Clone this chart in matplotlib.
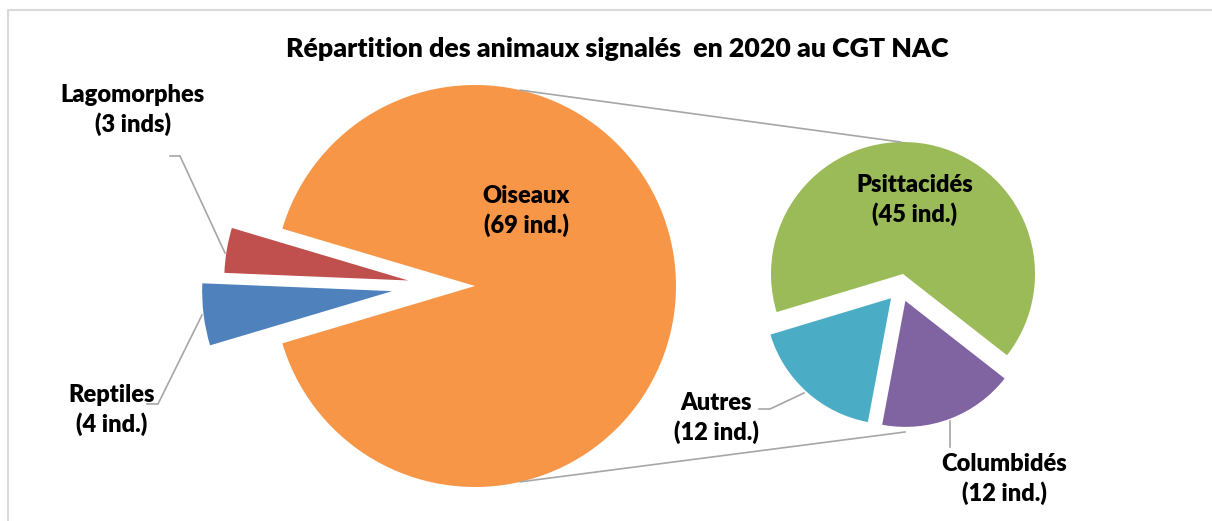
import numpy as np
import matplotlib.pyplot as plt

# Data
main_labels = ['Oiseaux', 'Lagomorphes', 'Reptiles']
main_values = [69, 3, 4]
main_units = ['ind.', 'inds', 'ind.']
sub_labels = ['Psittacidés', 'Autres', 'Columbidés']
sub_values = [45, 12, 12]
sub_units = ['ind.', 'ind.', 'ind.']
title = 'Répartition des animaux signalés  en 2020 au CGT NAC'

main_colors = ['#F79646', '#C0504D', '#4F81BD']
sub_colors = ['#9BBB59', '#4BACC6', '#8064A2']

W, H = 1212, 521
FONT = ['Lato', 'DejaVu Sans']
WEIGHT = 'heavy'


def Y(y):
    # picture rows run downwards, data y runs upwards
    return H - y


def push_out(wedges, idx, dist, radii):
    # explode slices, direction pulled halfway towards the group's middle
    mids = [(wedges[i].theta1 + wedges[i].theta2) / 2 for i in idx]
    group = (wedges[idx[0]].theta1 + wedges[idx[-1]].theta2) / 2
    for i, m, d, r in zip(idx, mids, dist, radii):
        ang = np.radians((m + group) / 2)
        cx, cy = wedges[i].center
        wedges[i].set_center((cx + d * np.cos(ang), cy + d * np.sin(ang)))
        wedges[i].set_radius(r)


fig = plt.figure(figsize=(W / 100, H / 100), dpi=100)
ax = fig.add_axes([0, 0, 1, 1])

# main pie: small slices sit on the left, exploded
main_c = (475, Y(286))
main_r = 201
rest = sum(main_values[1:]) / sum(main_values) * 360
main_start = 180 + rest / 2
main_wedges, _ = ax.pie(main_values, center=main_c, radius=main_r,
                        startangle=main_start, colors=main_colors,
                        wedgeprops=dict(linewidth=0))
push_out(main_wedges, [1, 2], [67, 83], [184, 190])

# secondary pie: breakdown of Oiseaux
sub_c = (903, Y(274))
sub_r = 132
sub_start = -38
sub_expl = 27
sub_wedges, _ = ax.pie(sub_values, center=sub_c, radius=sub_r,
                       startangle=sub_start, colors=sub_colors,
                       wedgeprops=dict(linewidth=0))
push_out(sub_wedges, [1, 2], [sub_expl, sub_expl], [126, 126])

# connector lines between the two pies
a = np.radians(77)
b = np.radians(91)
ax.plot([main_c[0] + main_r * np.cos(a), sub_c[0] + sub_r * np.cos(b)],
        [main_c[1] + main_r * np.sin(a), sub_c[1] + sub_r * np.sin(b)],
        color='#a6a6a6', lw=1.2)
ax.plot([main_c[0] + main_r * np.cos(-a), sub_c[0] + 2],
        [main_c[1] + main_r * np.sin(-a), sub_c[1] - sub_r - sub_expl + 1],
        color='#a6a6a6', lw=1.2)

# leader lines for outside labels
leaders = [
    ([170, 180, 225], [156, 156, 253]),
    ([147, 158, 202], [404, 404, 315]),
    ([759, 770, 804], [409, 409, 393]),
    ([950, 950], [421, 447]),
]
for xs, ys in leaders:
    ax.plot(xs, [Y(v) for v in ys], color='#a6a6a6', lw=1.2)

# labels
main_pos = [(526, 211), (133, 110), (112, 410)]
sub_pos = [(915, 200), (716, 418), (1004, 479)]
for lab, val, unit, (x, y) in zip(main_labels + sub_labels,
                                  main_values + sub_values,
                                  main_units + sub_units,
                                  main_pos + sub_pos):
    ax.text(x, Y(y), f'{lab}\n({val} {unit})', ha='center', va='center',
            fontsize=17, fontweight=WEIGHT, family=FONT, linespacing=1.35)

ax.text(617, Y(49), title, ha='center', va='center', fontsize=19.3,
        fontweight=WEIGHT, family=FONT)

# light chart frame (top and left visible)
ax.plot([7.5, 7.5, W], [0, Y(10), Y(10)], color='#d9d9d9', lw=1.5)

ax.set_xlim(0, W)
ax.set_ylim(0, H)
ax.set_aspect('equal')
ax.axis('off')

plt.savefig('out.png', dpi=100)
